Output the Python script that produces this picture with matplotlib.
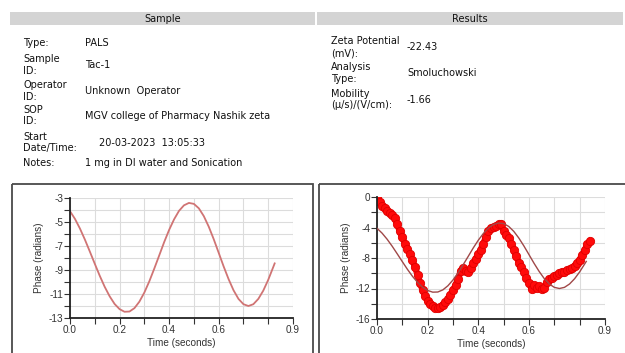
import numpy as np
import matplotlib.pyplot as plt
from matplotlib.patches import Rectangle
from matplotlib.ticker import MultipleLocator, FixedLocator

plt.rcParams['axes.unicode_minus'] = False

# fitted phase curve (same fit drawn in both charts)
fit_t = [0.00, 0.02, 0.04, 0.06, 0.08, 0.10, 0.12, 0.14, 0.16, 0.18, 0.20, 0.22,
         0.24, 0.26, 0.28, 0.30, 0.32, 0.34, 0.36, 0.38, 0.40, 0.42, 0.44, 0.46,
         0.48, 0.50, 0.52, 0.54, 0.56, 0.58, 0.60, 0.62, 0.64, 0.66, 0.68, 0.70,
         0.72, 0.74, 0.76, 0.78, 0.80, 0.82, 0.826]
fit_phase = [-4.1, -4.74, -5.54, -6.46, -7.46, -8.48, -9.48, -10.4, -11.19, -11.83, -12.26, -12.48,
             -12.46, -12.18, -11.64, -10.88, -9.95, -8.89, -7.79, -6.68, -5.66, -4.78, -4.07, -3.61,
             -3.41, -3.49, -3.86, -4.51, -5.39, -6.43, -7.56, -8.7, -9.76, -10.69, -11.41, -11.85,
             -12.0, -11.85, -11.41, -10.72, -9.82, -8.77, -8.45]

# measured phase (red points, right chart)
meas_t = [0.00, 0.01, 0.02, 0.03, 0.04, 0.05, 0.06, 0.07, 0.08, 0.09,
          0.10, 0.11, 0.12, 0.13, 0.14, 0.15, 0.16, 0.17, 0.18, 0.19,
          0.20, 0.21, 0.22, 0.23, 0.24, 0.25, 0.26, 0.27, 0.28, 0.29,
          0.30, 0.31, 0.32, 0.33, 0.34, 0.35, 0.36, 0.37, 0.38, 0.39,
          0.40, 0.41, 0.42, 0.43, 0.44, 0.45, 0.46, 0.47, 0.48, 0.49,
          0.50, 0.51, 0.52, 0.53, 0.54, 0.55, 0.56, 0.57, 0.58, 0.59,
          0.60, 0.61, 0.62, 0.63, 0.64, 0.65, 0.66, 0.67, 0.68, 0.69,
          0.70, 0.71, 0.72, 0.73, 0.74, 0.75, 0.76, 0.77, 0.78, 0.79,
          0.80, 0.81, 0.82, 0.83, 0.84]
meas_phase = [0.0, -0.7, -1.2, -1.5, -1.8, -2.1, -2.4, -2.8, -3.6, -4.5,
              -5.3, -6.1, -6.8, -7.5, -8.3, -9.2, -10.2, -11.3, -12.2, -13.0,
              -13.7, -14.0, -14.3, -14.6, -14.6, -14.4, -14.1, -13.8, -13.4, -12.8,
              -12.2, -11.6, -10.8, -9.7, -9.3, -9.7, -9.8, -9.3, -8.6, -8.1,
              -7.5, -6.9, -6.1, -5.2, -4.4, -4.1, -3.9, -3.8, -3.6, -3.5,
              -4.4, -5.0, -5.4, -6.1, -7.0, -7.8, -8.6, -9.2, -9.8, -10.6,
              -11.3, -12.0, -11.6, -11.9, -11.7, -12.0, -11.9, -11.2, -10.8, -10.6,
              -10.4, -10.2, -10.0, -9.8, -9.8, -9.6, -9.5, -9.3, -9.0, -8.6,
              -8.2, -7.6, -7.0, -6.2, -5.8]

sample_keys = [['Type:'], ['Sample', 'ID:'], ['Operator', 'ID:'], ['SOP', 'ID:'],
               ['Start', 'Date/Time:'], ['Notes:']]
sample_vals = ['PALS', 'Tac-1', 'Unknown  Operator', 'MGV college of Pharmacy Nashik zeta',
               '20-03-2023  13:05:33', '1 mg in DI water and Sonication']
result_keys = [['Zeta Potential', '(mV):'], ['Analysis', 'Type:'], ['Mobility', '(\u03bc/s)/(V/cm):']]
result_vals = ['-22.43', 'Smoluchowski', '-1.66']

x_labels = ['0.0', '', '0.2', '', '0.4', '', '0.6', '', '', '0.9']

W, H = 625, 353
fig = plt.figure(figsize=(W / 100, H / 100), dpi=100)

# page overlay in pixel units
page = fig.add_axes([0, 0, 1, 1])
page.set_xlim(0, W)
page.set_ylim(H, 0)
page.axis('off')
page.patch.set_alpha(0)

page.add_patch(Rectangle((10, 12), 305, 13, color='#d4d4d4', lw=0))
page.add_patch(Rectangle((317, 12), 306, 13, color='#d4d4d4', lw=0))
page.text(163, 18.5, 'Sample', ha='center', va='center', fontsize=7, color='#111111')
page.text(470, 18.5, 'Results', ha='center', va='center', fontsize=7, color='#111111')

page.add_patch(Rectangle((12, 184), 300.5, 180, fill=False, ec='#4a4a4a', lw=1.3))
page.add_patch(Rectangle((319, 184), 310, 180, fill=False, ec='#4a4a4a', lw=1.3))

s_rows = [43, 65, 91, 116, 143, 163]
s_val_x = [85, 85, 85, 85, 99, 85]
for keys, val, y, vx in zip(sample_keys, sample_vals, s_rows, s_val_x):
    if len(keys) == 1:
        page.text(23, y, keys[0], va='center', fontsize=7, color='#111111')
    else:
        page.text(23, y - 6, keys[0], va='center', fontsize=7, color='#111111')
        page.text(23, y + 5.5, keys[1], va='center', fontsize=7, color='#111111')
    page.text(vx, y, val, va='center', fontsize=7, color='#111111')

r_rows = [47.5, 73.5, 100]
for keys, val, y in zip(result_keys, result_vals, r_rows):
    page.text(331, y - 6, keys[0], va='center', fontsize=7, color='#111111')
    page.text(331, y + 5.5, keys[1], va='center', fontsize=7, color='#111111')
    page.text(407, y, val, va='center', fontsize=7, color='#111111')


def style(ax, ymin, ymax, ymajor, ygrid):
    ax.set_xlim(0, 0.9)
    ax.set_ylim(ymin, ymax)
    ax.xaxis.set_major_locator(FixedLocator([i / 10 for i in range(10)]))
    ax.set_xticklabels(x_labels)
    ax.yaxis.set_major_locator(MultipleLocator(ymajor))
    ax.yaxis.set_minor_locator(MultipleLocator(ygrid))
    ax.grid(True, which='both', color='#dcdcdc', lw=0.8)
    ax.set_axisbelow(True)
    for s in ['top', 'right']:
        ax.spines[s].set_visible(False)
    for s in ['left', 'bottom']:
        ax.spines[s].set_linewidth(1.3)
        ax.spines[s].set_color('#222222')
    ax.tick_params(which='both', direction='out', length=4, width=0.8, pad=1,
                   labelsize=7.2, colors='#333333', labelfontfamily='Liberation Sans')
    ax.set_xlabel('Time (seconds)', fontsize=7.2, family='Liberation Sans', color='#333333', labelpad=2)
    ax.set_ylabel('Phase (radians)', fontsize=7.2, family='Liberation Sans', color='#333333', labelpad=3)


ax1 = fig.add_axes([70 / W, 1 - 318 / H, 223 / W, 120 / H])
ax1.plot(fit_t, fit_phase, color='#d07474', lw=1.3)
style(ax1, -13, -3, 2, 1)
ax1.set_yticks([-3, -5, -7, -9, -11, -13])

ax2 = fig.add_axes([377 / W, 1 - 319 / H, 228 / W, 122 / H])
ax2.plot(meas_t, meas_phase, color='#ff0a0a', lw=4.5, marker='o', ms=6,
         mec='#e00000', mew=0.6, zorder=2)
ax2.plot(fit_t, fit_phase, color='#a04848', lw=1.0, zorder=3)
style(ax2, -16, 0, 4, 2)

fig.savefig('out.png', dpi=100, facecolor='white')
